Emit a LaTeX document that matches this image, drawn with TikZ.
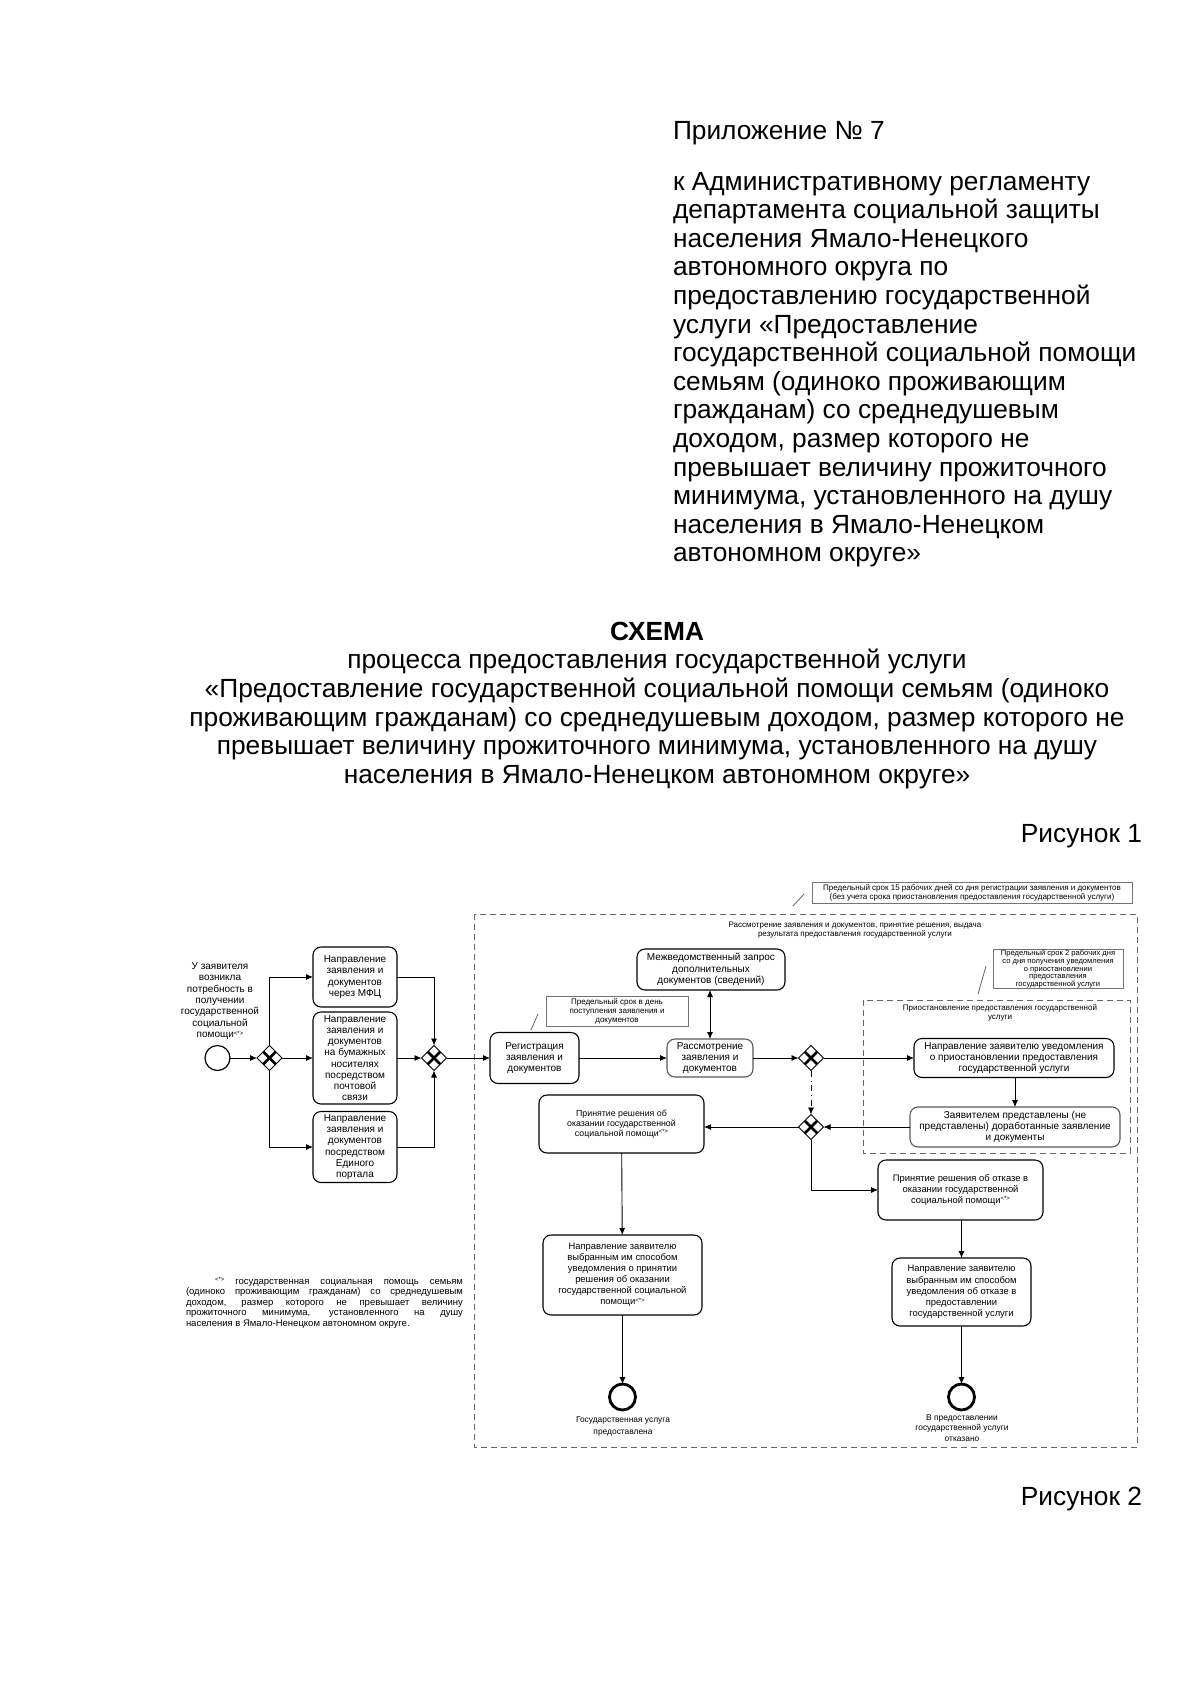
\documentclass[tikz,border=0pt]{standalone}
\usepackage{fontspec}
\setmainfont{Liberation Sans}
\usetikzlibrary{arrows.meta,shapes.geometric,calc}
\newcommand\fnmark{\raisebox{0.5ex}{\fontsize{3}{3}\selectfont<*>}}
\begin{document}
\begin{tikzpicture}[x=0.5pt,y=-0.5pt,
  every node/.style={inner sep=0pt, outer sep=0pt},
  bigtext/.style={font=\fontsize{13.15}{15}\selectfont},
  box/.style={draw, rounded corners=4pt, line width=0.55pt, align=center, font=\fontsize{5}{5.6}\selectfont},
  graybox/.style={box, draw=black!65},
  note/.style={draw=black!55, line width=0.5pt, align=center, font=\fontsize{4}{4.5}\selectfont},
  lbl/.style={align=center, font=\fontsize{4}{4.5}\selectfont},
  fntext/.style={anchor=base west, font=\fontsize{4.75}{4.6}\selectfont},
  gw/.style={draw, diamond, aspect=1, minimum width=12.5pt, minimum height=12.5pt, line width=0.5pt,
    path picture={\draw[line width=1.3pt]
      ([shift={(-3.2pt,-3.2pt)}]path picture bounding box.center) -- ([shift={(3.2pt,3.2pt)}]path picture bounding box.center)
      ([shift={(-3.2pt,3.2pt)}]path picture bounding box.center) -- ([shift={(3.2pt,-3.2pt)}]path picture bounding box.center);}},
  startev/.style={draw, circle, minimum size=12.5pt, line width=0.6pt},
  endev/.style={draw, circle, minimum size=13pt, line width=1.4pt},
  conn/.style={line width=0.45pt, -{Latex[length=3.5pt,width=3pt]}},
  assoc/.style={line width=0.4pt, draw=black!60},
  cont/.style={draw=black!60, dash pattern=on 3pt off 2pt, line width=0.5pt}
]
\fill[white] (0,0) rectangle (1200,1697);
\useasboundingbox (0,0) rectangle (1200,1697);

% ---------- header ----------
\node[bigtext, anchor=base west] (app) at (673,139) {Приложение № 7};
\foreach \t [count=\i from 0] in {{к Административному регламенту},{департамента социальной защиты},{населения Ямало-Ненецкого},{автономного округа по},{предоставлению государственной},{услуги «Предоставление},{государственной социальной помощи},{семьям (одиноко проживающим},{гражданам) со среднедушевым},{доходом, размер которого не},{превышает величину прожиточного},{минимума, установленного на душу},{населения в Ямало-Ненецком},{автономном округе»}}
  \node[bigtext, anchor=base west] (appl\i) at (673,190+28.6*\i) {\t};

\node[font=\fontsize{13.15}{15}\selectfont\bfseries, anchor=base] (title) at (657,640) {СХЕМА};
\foreach \t [count=\i from 1] in {{процесса предоставления государственной услуги},{«Предоставление государственной социальной помощи семьям (одиноко},{проживающим гражданам) со среднедушевым доходом, размер которого не},{превышает величину прожиточного минимума, установленного на душу},{населения в Ямало-Ненецком автономном округе»}}
  \node[bigtext, anchor=base] (titl\i) at (657,640+28.7*\i) {\t};

\node[bigtext, anchor=base east] (fig1) at (1142,842) {Рисунок 1};
\node[bigtext, anchor=base east] (fig2) at (1142,1505) {Рисунок 2};

% ---------- containers ----------
\draw[cont] (474,914) rectangle (1137,1447);
\draw[cont] (863,1000) rectangle (1130,1153);
\node[lbl] (outerlbl) at (855,930) {Рассмотрение заявления и документов, принятие решения, выдача\\результата предоставления государственной услуги};
\node[lbl] (pauselbl) at (1000,1013) {Приостановление предоставления государственной\\услуги};

% ---------- notes ----------
\node[note, minimum width=160pt, minimum height=10.5pt] (topnote) at (972,892.5) {Предельный срок 15 рабочих дней со дня регистрации заявления и документов\\(без учета срока приостановления предоставления государственной услуги)};
\node[note, minimum width=71pt, minimum height=15pt] (note1) at (617,1011) {Предельный срок в день\\поступления заявления и\\документов};
\node[note, minimum width=65pt, minimum height=19pt, font=\fontsize{3.8}{3.9}\selectfont] (note2) at (1058,969) {Предельный срок 2 рабочих дня\\со дня получения уведомления\\о приостановлении\\предоставления\\государственной услуги};
\coordinate (a1s) at (531,1030); \coordinate (a1e) at (538,1014);
\coordinate (a2s) at (793,906); \coordinate (a2e) at (804,894);
\coordinate (a3s) at (978,994); \coordinate (a3e) at (986,966);
\draw[assoc] (a1s) -- (a1e);
\draw[assoc] (a2s) -- (a2e);
\draw[assoc] (a3s) -- (a3e);

% ---------- left part ----------
\node[align=center, font=\fontsize{5}{5.7}\selectfont] (starttxt) at (220,1001) {У заявителя\\возникла\\потребность в\\получении\\государственной\\социальной\\помощи\fnmark};
\node[startev] (start) at (217.5,1058) {};
\node[gw] (gw1) at (269.5,1058) {};
\node[box, minimum width=42pt, minimum height=30pt] (mfc) at (355,977) {Направление\\заявления и\\документов\\через МФЦ};
\node[box, minimum width=42pt, minimum height=46pt] (post) at (355,1058) {Направление\\заявления и\\документов\\на бумажных\\носителях\\посредством\\почтовой\\связи};
\node[box, minimum width=42pt, minimum height=35.5pt] (portal) at (355,1147) {Направление\\заявления и\\документов\\посредством\\Единого\\портала};
\node[gw] (gw2) at (434,1058) {};

\draw[conn] (start) -- (gw1);
\draw[conn] (gw1) -- (post);
\draw[conn] (gw1.north) |- (mfc.west);
\draw[conn] (gw1.south) |- (portal.west);
\draw[conn] (mfc.east) -| (gw2.north);
\draw[conn] (post) -- (gw2);
\draw[conn] (portal.east) -| (gw2.south);

% ---------- main part ----------
\node[box, minimum width=44.5pt, minimum height=25.5pt] (reg) at (534.5,1058) {Регистрация\\заявления и\\документов};
\node[box, minimum width=74pt, minimum height=20.5pt] (mezh) at (711,969.5) {Межведомственный запрос\\дополнительных\\документов (сведений)};
\node[graybox, minimum width=43pt, minimum height=19pt] (rassm) at (710,1058) {Рассмотрение\\заявления и\\документов};
\node[gw] (gw3) at (811,1058) {};
\node[gw] (gw4) at (811,1127) {};
\node[box, minimum width=100pt, minimum height=19.5pt] (p1) at (1014,1058) {Направление заявителю уведомления\\о приостановлении предоставления\\государственной услуги};
\node[graybox, minimum width=105pt, minimum height=20pt] (p2) at (1015,1127) {Заявителем представлены (не\\представлены) доработанные заявление\\и документы};
\node[box, minimum width=82.5pt, minimum height=29pt, font=\fontsize{4.4}{4.9}\selectfont] (accept) at (621.5,1124) {Принятие решения об\\оказании государственной\\социальной помощи\fnmark};
\node[box, minimum width=79.5pt, minimum height=40pt, font=\fontsize{4.7}{5.5}\selectfont] (notif1) at (622.5,1275) {Направление заявителю\\выбранным им способом\\уведомления о принятии\\решения об оказании\\государственной социальной\\помощи\fnmark};
\node[box, minimum width=82.5pt, minimum height=30pt, font=\fontsize{4.7}{5.3}\selectfont] (refuse) at (960.5,1190) {Принятие решения об отказе в\\оказании государственной\\социальной помощи\fnmark};
\node[box, minimum width=69.5pt, minimum height=34pt, font=\fontsize{4.7}{5.6}\selectfont] (notif2) at (961.5,1292) {Направление заявителю\\выбранным им способом\\уведомления об отказе в\\предоставлении\\государственной услуги};
\node[endev] (end1) at (622.5,1397) {};
\node[endev] (end2) at (961.5,1397) {};
\node[align=center, font=\fontsize{4.2}{6}\selectfont] (end1txt) at (623,1426) {Государственная услуга\\предоставлена};
\node[align=center, font=\fontsize{4.2}{5.2}\selectfont] (end2txt) at (962,1428) {В предоставлении\\государственной услуги\\отказано};

\draw[conn] (gw2) -- (reg);
\draw[conn] (reg) -- (rassm);
\draw[line width=0.45pt, {Latex[length=3.5pt,width=3pt]}-{Latex[length=3.5pt,width=3pt]}] (mezh.south -| rassm.north) -- (rassm.north);
\draw[conn] (rassm) -- (gw3);
\draw[conn] (gw3) -- (p1);
\draw[conn] (p1.south -| 1015,0) -- (p2.north);
\draw[conn] (p2) -- (gw4);
\draw[conn, dash dot] (gw3) -- (gw4);
\draw[conn] (gw4.west) -- (gw4.west -| accept.east);
\draw[conn] (gw4.south) |- (refuse.west);
\draw[conn] (accept) -- (notif1);
\draw[conn] (notif1) -- (end1);
\draw[conn] (refuse.south -| notif2.north) -- (notif2.north);
\draw[conn] (notif2) -- (end2);

% ---------- footnote ----------
\node[fntext] (fn1) at (215,1284) {\makebox[124pt][s]{\fnmark{} государственная социальная помощь семьям}};
\node[fntext] (fn2) at (186,1294.5) {\makebox[138.5pt][s]{(одиноко проживающим гражданам) со среднедушевым}};
\node[fntext] (fn3) at (186,1305) {\makebox[138.5pt][s]{доходом, размер которого не превышает величину}};
\node[fntext] (fn4) at (186,1315.5) {\makebox[138.5pt][s]{прожиточного минимума, установленного на душу}};
\node[fntext] (fn5) at (186,1326) {населения в Ямало-Ненецком автономном округе.};
\end{tikzpicture}
\end{document}
